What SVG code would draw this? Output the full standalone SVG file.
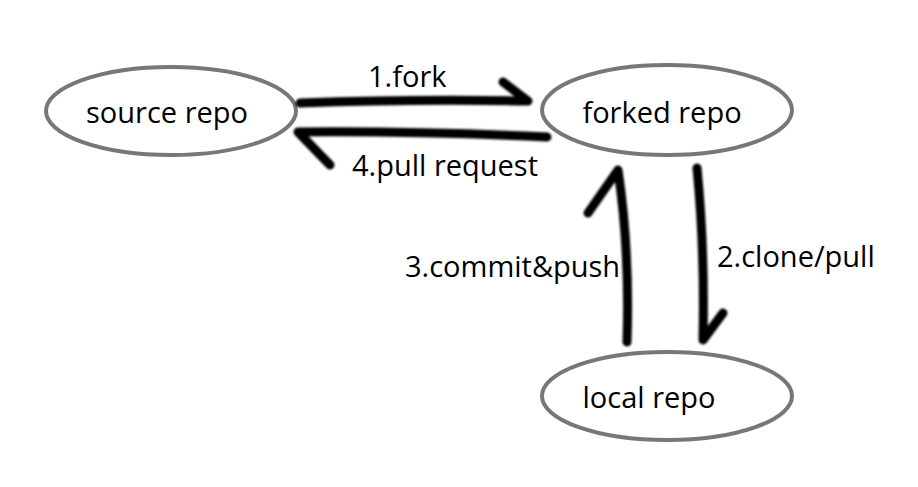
<svg xmlns="http://www.w3.org/2000/svg" width="918" height="487" viewBox="0 0 918 487">
<defs>
<style>
.node ellipse{fill:#fff;stroke:#777;stroke-width:4}
.node text,.lbl{font-family:"Open Sans","Noto Sans",sans-serif;font-size:29px;fill:#000}
.node text{text-anchor:middle}
.stroke{fill:none;stroke:#000;stroke-width:9;stroke-linecap:round;stroke-linejoin:round}
</style>
<filter id="soft" x="-10%" y="-10%" width="120%" height="120%"><feGaussianBlur stdDeviation="0.8"/></filter>
</defs>
<rect width="918" height="487" fill="#fff"/>
<g id="source-repo" class="node">
<ellipse cx="171" cy="111" rx="125" ry="44"/>
<text x="167" y="123">source repo</text>
</g>
<g id="forked-repo" class="node">
<ellipse cx="667" cy="110" rx="125" ry="45"/>
<text x="662" y="123">forked repo</text>
</g>
<g id="local-repo" class="node">
<ellipse cx="667" cy="396" rx="125" ry="44"/>
<text x="649" y="408">local repo</text>
</g>
<g id="connectors" filter="url(#soft)">
<path class="stroke" d="M300 103 Q410 99 528 101 L503 82"/>
<path class="stroke" d="M547 137 Q420 131 298 132 L330 165"/>
<path class="stroke" d="M627 342 Q630 250 618 170 L588 213"/>
<path class="stroke" d="M697 168 Q705 250 703 340 L723 313"/>
</g>
<g id="labels">
<text class="lbl" x="368" y="87">1.fork</text>
<text class="lbl" x="352" y="176">4.pull request</text>
<text class="lbl" x="405" y="277">3.commit&amp;push</text>
<text class="lbl" x="717" y="267">2.clone/pull</text>
</g>
</svg>
